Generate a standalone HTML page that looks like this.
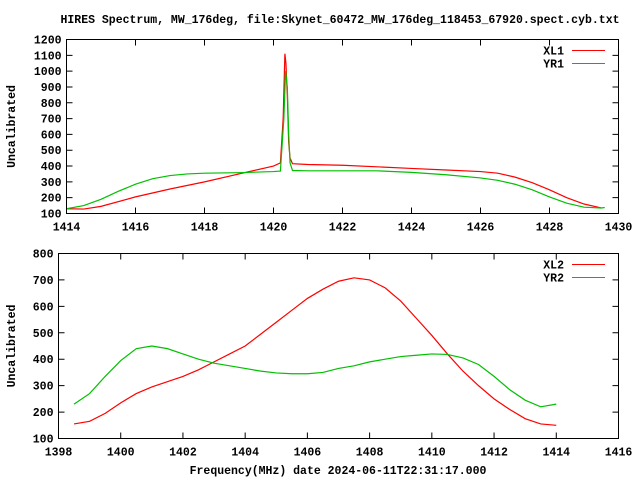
<!DOCTYPE html>
<html><head><meta charset="utf-8"><style>
body{margin:0;background:#fff}
svg{display:block}
text{font-family:"Liberation Mono","DejaVu Sans Mono",monospace;font-size:11.5px;font-weight:bold;fill:#000}
</style></head><body>
<svg id="c" width="640" height="480">
<text x="340" y="23" text-anchor="middle">HIRES Spectrum, MW_176deg, file:Skynet_60472_MW_176deg_118453_67920.spect.cyb.txt</text>
<text x="338" y="474" text-anchor="middle">Frequency(MHz) date 2024-06-11T22:31:17.000</text>
</svg>
<script>
const topXTicks=[1414,1416,1418,1420,1422,1424,1426,1428,1430];
const topYTicks=[100,200,300,400,500,600,700,800,900,1000,1100,1200];
const xl1X=[1414,1414.5,1415,1416,1417,1418,1419,1420,1420.2,1420.28,1420.33,1420.36,1420.4,1420.44,1420.48,1420.55,1421,1422,1423,1424,1425,1426,1426.5,1427,1427.5,1428,1428.5,1429,1429.5];
const xl1Y=[130,128,145,205,255,300,350,400,420,700,1110,1050,850,550,450,415,410,405,395,385,375,365,355,330,295,250,200,160,135];
const yr1X=[1414,1414.5,1415,1415.5,1416,1416.5,1417,1417.5,1418,1419,1420,1420.2,1420.3,1420.35,1420.4,1420.44,1420.48,1420.55,1421,1423,1424,1425,1426,1426.5,1427,1427.5,1428,1428.5,1429,1429.5,1429.6];
const yr1Y=[130,150,190,240,285,320,340,350,355,358,365,368,700,1000,900,600,420,372,370,370,360,345,325,310,285,250,205,165,140,135,138];
const botXTicks=[1398,1400,1402,1404,1406,1408,1410,1412,1414,1416];
const botYTicks=[100,200,300,400,500,600,700,800];
const xl2X=[1398.5,1399,1399.5,1400,1400.5,1401,1401.5,1402,1402.5,1403,1403.5,1404,1404.5,1405,1405.5,1406,1406.5,1407,1407.5,1408,1408.5,1409,1409.5,1410,1410.5,1411,1411.5,1412,1412.5,1413,1413.5,1414];
const xl2Y=[155,165,195,235,270,295,315,335,360,390,420,450,495,540,585,630,665,695,708,700,670,620,555,490,420,355,300,250,210,175,155,150];
const yr2X=xl2X.slice();
const yr2Y=[230,270,335,395,440,450,440,420,400,385,375,365,355,348,345,345,350,365,375,390,400,410,415,420,418,405,380,335,285,245,220,230];

const NS="http://www.w3.org/2000/svg";
const svg=document.getElementById('c');
function mk(tag,attrs,parent){const e=document.createElementNS(NS,tag);for(const k in attrs)e.setAttribute(k,attrs[k]);(parent||svg).appendChild(e);return e;}
function panel(name,L,R,T,B,x0,x1,y0,y1,xt,yt,series){
  const g=mk('g',{});
  
  
  const sx=v=>L+(v-x0)/(x1-x0)*(R-L);
  const sy=v=>B-(v-y0)/(y1-y0)*(B-T);
  xt.forEach(v=>{
    const x=sx(v);
    const l=mk('path',{d:`M${x},${B}v-6M${x},${T}v6`,stroke:'#000','stroke-width':1},g);
    
    
    const t=mk('text',{x:x,y:B+17,'text-anchor':'middle'},g);t.textContent=v;
    
    
  });
  yt.forEach(v=>{
    const y=sy(v);
    const l=mk('path',{d:`M${L},${y}h6M${R},${y}h-6`,stroke:'#000','stroke-width':1},g);
    
    
    const t=mk('text',{x:L-5,y:y+4,'text-anchor':'end'},g);t.textContent=v;
    
    
  });
  const yl=mk('text',{x:15,y:(T+B)/2,'text-anchor':'middle',transform:`rotate(-90 15 ${(T+B)/2})`},g);
  yl.textContent='Uncalibrated';
  
  
  series.forEach((s,i)=>{
    const p=mk('polyline',{points:s.x.map((v,j)=>sx(v)+','+sy(s.y[j])).join(' '),fill:'none',stroke:s.c,'stroke-width':1.2},g);
    
    
    const ly=T+11+i*13;
    const lt=mk('text',{x:564,y:ly+4,'text-anchor':'end'},g);lt.textContent=s.n;
    
    
    const ll=mk('line',{x1:572,x2:605,y1:ly,y2:ly,stroke:s.c,'stroke-width':1},g);
    
    
  });
  const fr=mk('rect',{x:L,y:T,width:R-L,height:B-T,fill:'none',stroke:'#000','stroke-width':1},g);
  
  
}
panel('top-panel',66.5,618.5,39.5,213.5,1414,1430,100,1200,topXTicks,topYTicks,
  [{x:xl1X,y:xl1Y,c:'#ff0000',n:'XL1'},{x:yr1X,y:yr1Y,c:'#00c000',n:'YR1'}]);
panel('bottom-panel',58.5,618.5,253.5,438.5,1398,1416,100,800,botXTicks,botYTicks,
  [{x:xl2X,y:xl2Y,c:'#ff0000',n:'XL2'},{x:yr2X,y:yr2Y,c:'#00c000',n:'YR2'}]);
</script>
</body></html>
